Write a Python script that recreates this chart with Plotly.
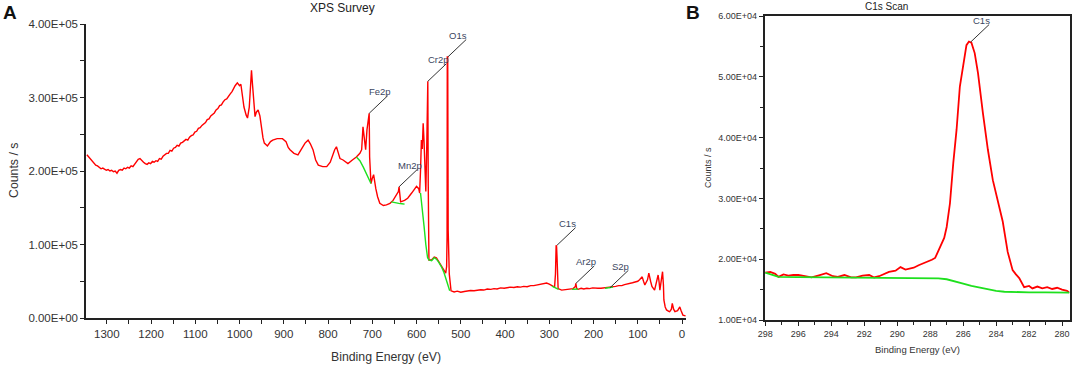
import plotly.graph_objects as go

# ---------------- Panel A: XPS survey ----------------
survey_ev = [1345, 1341, 1337, 1333, 1329, 1325, 1321, 1317, 1313, 1309, 1305, 1301, 1297, 1293,
             1289, 1285, 1281, 1277, 1273, 1269, 1265, 1261, 1257, 1253, 1249, 1245, 1241, 1237,
             1233, 1229, 1225, 1221, 1217, 1213, 1209, 1205, 1201, 1197, 1193, 1189, 1185, 1181,
             1177, 1173, 1169, 1165, 1161, 1157, 1153, 1149, 1145, 1141, 1137, 1133, 1129, 1125,
             1121, 1117, 1113, 1109, 1105, 1101, 1097, 1093, 1089, 1085, 1081, 1077, 1073, 1069,
             1065, 1061, 1057, 1053, 1049, 1045, 1041, 1037, 1033, 1029, 1025, 1021, 1017, 1013,
             1010, 1005, 1000, 997, 993, 990, 985, 982, 978, 975, 973, 971, 968, 965, 962, 958,
             954, 951, 947, 944, 937, 930, 925, 915, 903, 895, 890, 886, 877, 868, 860, 852, 845,
             840, 834, 828, 822, 812, 803, 795, 785, 781, 777, 773, 766, 760, 755, 745, 736, 728,
             724, 721, 718, 715, 712, 710, 707, 706, 703, 700, 697, 692, 688, 683, 675, 668, 660,
             653, 645, 641, 639.5, 638, 636, 627, 620, 611, 600, 595, 593, 591, 589, 587, 585, 583,
             581, 579, 577, 574.5, 573.5, 572, 566, 560, 555, 550, 544, 538, 534, 532, 531, 530.5,
             529.5, 528.5, 526, 522, 515, 508, 500, 492, 485, 478, 470, 462, 455, 448, 440, 432,
             425, 418, 410, 402, 395, 388, 380, 372, 365, 358, 350, 342, 335, 328, 320, 313, 306,
             300, 295, 290, 288, 286, 284.5, 283.5, 282.5, 281.5, 280, 272, 260, 246, 241, 240,
             238, 235, 228, 222, 215, 209, 202, 196, 190, 183, 176, 170, 163, 157, 150, 143, 136,
             130, 124, 118, 112, 106, 100, 96, 90, 87, 84, 78, 75, 71, 68, 62, 58, 54, 52, 50, 46,
             44, 42, 41, 38, 35, 30, 28, 24, 22, 19, 16, 10, 6, 5, 2, -2, -8]
survey_counts = [222000, 219000, 216000, 213000, 211000, 208000, 207000, 205000, 203000, 204000,
                 202000, 201000, 202000, 200000, 201000, 199000, 200000, 197000, 201000, 202000,
                 201000, 204000, 203000, 205000, 204000, 207000, 206000, 209000, 212000, 216000,
                 217000, 214000, 212000, 210000, 209000, 211000, 210000, 213000, 212000, 214000,
                 213000, 217000, 216000, 220000, 222000, 224000, 224000, 228000, 227000, 231000,
                 232000, 235000, 234000, 238000, 239000, 241000, 243000, 242000, 246000, 248000,
                 249000, 253000, 254000, 258000, 259000, 262000, 264000, 266000, 270000, 271000,
                 275000, 277000, 279000, 283000, 285000, 289000, 290000, 294000, 297000, 298000,
                 302000, 305000, 308000, 314000, 316000, 320000, 316000, 318000, 300000, 287000,
                 276000, 272000, 287000, 320000, 337000, 320000, 297000, 274000, 280000, 283000,
                 275000, 260000, 245000, 238000, 234000, 240000, 242000, 244000, 244000, 240000,
                 232000, 229000, 224000, 222000, 230000, 238000, 242000, 237000, 229000, 215000,
                 208000, 206000, 206000, 212000, 229000, 233000, 225000, 217000, 215000, 212000,
                 210000, 215000, 219000, 224000, 229000, 260000, 240000, 229000, 256000, 265000,
                 278500, 219000, 183000, 190000, 195000, 176000, 165000, 156000, 153000, 154000,
                 156000, 160000, 167000, 172000, 178500, 170000, 158000, 160000, 163000, 170000,
                 179000, 176000, 170000, 200000, 242000, 230000, 265000, 240000, 215000, 172000,
                 230000, 322000, 180000, 79000, 79000, 83000, 82000, 77000, 70000, 64000, 61000,
                 70000, 110000, 355000, 355000, 120000, 60000, 37000, 35500, 36500, 35000, 36000,
                 36500, 37500, 37000, 38000, 38500, 38000, 39500, 39000, 40000, 39500, 41000,
                 40500, 41000, 42000, 41500, 42500, 42000, 43000, 42500, 44000, 44000, 45000,
                 46000, 47000, 47500, 46000, 44000, 42500, 42000, 60000, 99000, 97000, 83000,
                 45000, 40000, 38000, 39000, 40000, 43000, 47000, 40000, 39000, 40500, 39500,
                 40500, 40000, 41000, 40500, 40500, 40500, 41000, 41000, 41500, 42000, 43000,
                 44000, 44000, 45500, 46000, 46500, 48000, 49000, 50000, 52000, 56000, 50000,
                 45000, 52000, 61000, 50000, 43000, 38000, 50000, 58500, 50000, 38000, 55000,
                 63000, 45000, 24500, 15000, 11000, 9000, 8600, 12000, 20000, 12000, 8600, 10000,
                 13000, 15000, 10000, 4000, 3000]

# background (green) segments under the survey peaks
bg_fe_ev = [736, 728, 720, 712, 706, 703]
bg_fe_counts = [219000, 214000, 205000, 195000, 186000, 183000]
bg_mn_ev = [657, 648, 640, 633, 627]
bg_mn_counts = [158000, 156500, 156000, 155500, 155000]
bg_cr_ev = [591, 587, 583, 579, 575, 572, 566, 560, 555, 550, 544, 538, 534, 530, 526, 525]
bg_cr_counts = [170000, 150000, 125000, 100000, 82000, 79000, 78000, 82000, 80000, 76000,
                70000, 62000, 55000, 45000, 38000, 37000]
bg_c_ev = [294, 288, 283, 279]
bg_c_counts = [43500, 42000, 40000, 39000]
bg_ar_ev = [249, 242, 235]
bg_ar_counts = [39000, 39000, 39500]
bg_s_ev = [174, 165, 156]
bg_s_counts = [40500, 41000, 42000]

peak_names = ["Fe2p", "Mn2p", "Cr2p", "O1s", "C1s", "Ar2p", "S2p"]
peak_ev = [707, 639.5, 574.5, 529.5, 282.5, 240, 163]
peak_counts = [278500, 178500, 322000, 355000, 99000, 47000, 41000]

survey_xticks = [1300, 1200, 1100, 1000, 900, 800, 700, 600, 500, 400, 300, 200, 100, 0]
survey_yticks = [0, 100000, 200000, 300000, 400000]
survey_yticktext = ["0.00E+00", "1.00E+05", "2.00E+05", "3.00E+05", "4.00E+05"]

# ---------------- Panel B: C1s scan ----------------
c1s_ev = [298.0, 297.7, 297.4, 297.2, 296.9, 296.6, 296.3, 296.0, 295.6, 295.2, 294.8, 294.3,
          293.9, 293.6, 293.2, 292.8, 292.5, 292.1, 291.7, 291.4, 291.1, 290.8, 290.5, 290.1,
          289.8, 289.5, 289.3, 289.0, 288.7, 288.4, 288.1, 287.9, 287.7, 287.5, 287.3, 287.15,
          287.0, 286.8, 286.6, 286.4, 286.2, 286.0, 285.8, 285.65, 285.5, 285.3, 285.1, 284.8,
          284.5, 284.2, 283.9, 283.6, 283.3, 283.0, 282.8, 282.6, 282.3, 282.0, 281.8, 281.5,
          281.2, 280.9, 280.6, 280.3, 280.0, 279.7, 279.55]
c1s_counts = [17800, 17900, 17600, 17100, 17500, 17300, 17400, 17400, 17200, 17000, 17300, 17700,
              17200, 17100, 17400, 17000, 17000, 17300, 17400, 17000, 17200, 17600, 17900, 18100,
              18700, 18300, 18400, 18600, 19000, 19300, 19600, 19900, 20200, 21500, 22600, 23500,
              25300, 29200, 35800, 41300, 48400, 52200, 55200, 55800, 55600, 53900, 50600, 44000,
              38000, 33000, 29700, 26200, 21200, 18200, 17500, 16900, 15400, 15600, 15200, 15500,
              15200, 15400, 15100, 15300, 15000, 14800, 14500]
c1s_bg_ev = [298.0, 297.6, 297.2, 296.0, 294.0, 292.0, 290.0, 288.5, 287.5, 287.0, 286.5, 286.0,
             285.5, 285.0, 284.5, 284.0, 283.5, 283.0, 282.0, 281.0, 279.55]
c1s_bg_counts = [17800, 17400, 17100, 17050, 17000, 17000, 17000, 16950, 16850, 16700, 16400,
                 16000, 15600, 15300, 15000, 14800, 14650, 14600, 14550, 14550, 14500]
c1s_peak_name = "C1s"
c1s_peak_ev = 285.55
c1s_peak_counts = 55700

c1s_xticks = [298, 296, 294, 292, 290, 288, 286, 284, 282, 280]
c1s_yticks = [10000, 20000, 30000, 40000, 50000, 60000]
c1s_yticktext = ["1.00E+04", "2.00E+04", "3.00E+04", "4.00E+04", "5.00E+04", "6.00E+04"]

RED = "#ff0000"
GREEN = "#1ee01e"
AX = "#222222"
TXT = "#333333"
LBL = "#3b4660"
FONT = "Liberation Sans, Arial, sans-serif"

fig = go.Figure()
fig.add_trace(go.Scatter(x=survey_ev, y=survey_counts, mode="lines",
                         line=dict(color=RED, width=1.4), xaxis="x", yaxis="y"))
for ev, ct in [(bg_fe_ev, bg_fe_counts), (bg_mn_ev, bg_mn_counts), (bg_cr_ev, bg_cr_counts),
               (bg_c_ev, bg_c_counts), (bg_ar_ev, bg_ar_counts), (bg_s_ev, bg_s_counts)]:
    fig.add_trace(go.Scatter(x=ev, y=ct, mode="lines", line=dict(color=GREEN, width=1.4),
                             xaxis="x", yaxis="y"))
fig.add_trace(go.Scatter(x=c1s_ev, y=c1s_counts, mode="lines",
                         line=dict(color=RED, width=1.8), xaxis="x2", yaxis="y2"))
fig.add_trace(go.Scatter(x=c1s_bg_ev, y=c1s_bg_counts, mode="lines",
                         line=dict(color=GREEN, width=1.8), xaxis="x2", yaxis="y2"))

W, H = 1072, 366


def px2x(p):
    return p / W


def px2y(p):
    return 1 - p / H


axis_common = dict(showline=True, linecolor=AX, linewidth=1.5, ticks="outside", ticklen=4,
                   tickwidth=1.3, tickcolor=AX, showgrid=False, zeroline=False,
                   automargin=False)

fig.update_layout(
    template="none",
    width=W, height=H, margin=dict(l=0, r=0, t=0, b=0, autoexpand=False),
    paper_bgcolor="white", plot_bgcolor="white", showlegend=False,
    font=dict(family=FONT, color=TXT),
    xaxis=dict(domain=[px2x(86), px2x(686)], range=[1347, -9], anchor="y",
               tickmode="array", tickvals=survey_xticks, tickfont=dict(size=11.5, color=TXT),
               minor=dict(dtick=50, tick0=0, ticks="outside", ticklen=4, tickwidth=1.3,
                          tickcolor=AX), **axis_common),
    yaxis=dict(domain=[px2y(318), px2y(24)], range=[0, 400000], anchor="x",
               tickmode="array", tickvals=survey_yticks, ticktext=survey_yticktext,
               tickfont=dict(size=11.5, color=TXT),
               minor=dict(dtick=50000, tick0=0, ticks="outside", ticklen=4, tickwidth=1.3,
                          tickcolor=AX), **axis_common),
    xaxis2=dict(domain=[px2x(764.5), px2x(1069.5)], range=[298.05, 279.55], anchor="y2",
                mirror=True, tickmode="array", tickvals=c1s_xticks,
                tickfont=dict(size=9, color=TXT),
                minor=dict(dtick=1, tick0=0, ticks="outside", ticklen=3, tickwidth=1.2,
                           tickcolor=AX), **axis_common),
    yaxis2=dict(domain=[px2y(320), px2y(16)], range=[10000, 60000], anchor="x2",
                mirror=True, tickmode="array", tickvals=c1s_yticks, ticktext=c1s_yticktext,
                tickfont=dict(size=9, color=TXT),
                minor=dict(dtick=5000, tick0=0, ticks="outside", ticklen=3, tickwidth=1.2,
                           tickcolor=AX), **axis_common),
)

ann = []
# titles, panel letters, axis titles
ann.append(dict(text="XPS Survey", x=px2x(342), y=px2y(8), font=dict(size=12, color="#222")))
ann.append(dict(text="C1s Scan", x=px2x(886), y=px2y(6), font=dict(size=10, color="#222")))
ann.append(dict(text="<b>A</b>", x=px2x(10), y=px2y(12), font=dict(size=19, color="#111")))
ann.append(dict(text="<b>B</b>", x=px2x(693.5), y=px2y(12), font=dict(size=19, color="#111")))
ann.append(dict(text="Binding Energy (eV)", x=px2x(386), y=px2y(357),
                font=dict(size=12.3, color=TXT)))
ann.append(dict(text="Binding Energy (eV)", x=px2x(917), y=px2y(349),
                font=dict(size=9.5, color=TXT)))
ann.append(dict(text="Counts / s", x=px2x(14), y=px2y(171), textangle=-90,
                font=dict(size=12.3, color=TXT)))
ann.append(dict(text="Counts / s", x=px2x(708), y=px2y(168), textangle=-90,
                font=dict(size=9, color=TXT)))
for a in ann:
    a.update(xref="paper", yref="paper", showarrow=False, xanchor="center", yanchor="middle")

# peak leader lines and labels
peaks = [(n, e, c, "x", "y") for n, e, c in zip(peak_names, peak_ev, peak_counts)]
peaks.append((c1s_peak_name, c1s_peak_ev, c1s_peak_counts, "x2", "y2"))
for name, ev, ct, xr, yr in peaks:
    ann.append(dict(text="", x=ev, y=ct, xref=xr, yref=yr, showarrow=True, arrowhead=0,
                    arrowwidth=1, arrowcolor="#333", ax=20, ay=-19, standoff=0))
    ann.append(dict(text=name, x=ev, y=ct, xref=xr, yref=yr, showarrow=False,
                    xanchor="center", yanchor="middle", xshift=10.5, yshift=21.5,
                    font=dict(size=9.5, color=LBL)))

fig.update_layout(annotations=ann)
fig.write_html("out.html", config={"displayModeBar": False},
               post_script="document.body.style.margin='0';document.body.style.padding='0';"
                           "document.body.style.overflow='hidden';")
